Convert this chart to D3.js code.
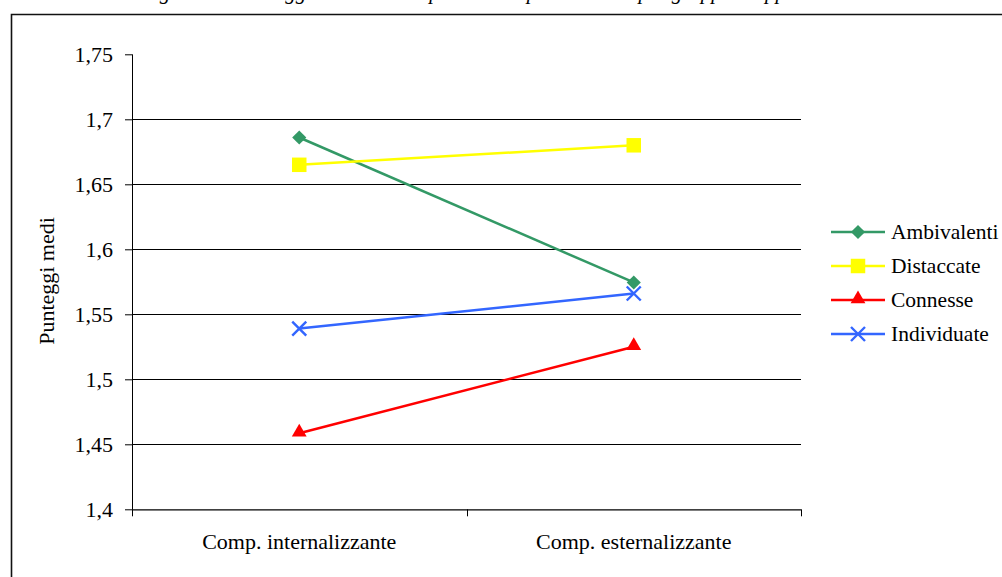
<!DOCTYPE html>
<meta charset="utf-8" />
<head>
  <style>
    body { margin: 0; background: #fff; }
    svg { display: block; }
    svg text { font-family: "Liberation Serif", "Times New Roman", Tinos, serif !important; }
  </style>
  <script src="https://cdn.jsdelivr.net/npm/d3@7"></script>
</head>
<body>
  <svg width="1002" height="577"></svg>
  <script>
    // data
    const categories = ["Comp. internalizzante", "Comp. esternalizzante"];
    const seriesNames = ["Ambivalenti", "Distaccate", "Connesse", "Individuate"];
    const ambivalenti = [1.686, 1.5745];
    const distaccate = [1.665, 1.680];
    const connesse = [1.4585, 1.525];
    const individuate = [1.539, 1.566];
    const yTicks = [1.4, 1.45, 1.5, 1.55, 1.6, 1.65, 1.7, 1.75];

    const colors = ["#339966", "#ffff00", "#ff0000", "#3366ff"];
    const shapes = ["diamond", "square", "triangle", "x"];
    const series = [ambivalenti, distaccate, connesse, individuate].map(function (vals, i) {
      return { name: seriesNames[i], values: vals, color: colors[i], shape: shapes[i] };
    });

    const svg = d3.select("svg");

    // caption above, cut off by the page edge as in the scan
    svg.append("text")
      .attr("x", 505)
      .attr("y", -1)
      .attr("text-anchor", "middle")
      .style("font-style", "italic")
      .style("font-size", "21px")
      .text("Figura 2 – Punteggi medi nei comportamenti problematici per gruppi di appartenenza");

    // outer frame (continues past right and bottom edges)
    svg.append("path")
      .attr("d", "M11.5,600 L11.5,14.5 L1100,14.5")
      .attr("fill", "none")
      .attr("stroke", "#111")
      .attr("stroke-width", 1.6);

    const plotLeft = 132, plotRight = 801, plotTop = 54.3, plotBottom = 509.3;

    const x = d3.scaleBand().domain(categories).range([plotLeft, plotRight]);
    const y = d3.scaleLinear().domain([1.4, 1.75]).range([plotBottom, plotTop]);

    // gridlines
    svg.append("g")
      .selectAll("line")
      .data(yTicks.filter(function (d) { return d > 1.4 && d < 1.75; }))
      .enter()
      .append("line")
      .attr("x1", plotLeft)
      .attr("x2", plotRight)
      .attr("y1", function (d) { return Math.round(y(d)) + 0.5; })
      .attr("y2", function (d) { return Math.round(y(d)) + 0.5; })
      .attr("stroke", "#000")
      .attr("stroke-width", 1);

    // y axis
    const yAxis = svg.append("g")
      .attr("transform", "translate(" + plotLeft + ",0)")
      .call(d3.axisLeft(y)
        .tickValues(yTicks)
        .tickSize(7)
        .tickPadding(12)
        .tickFormat(function (d) { return String(+d.toFixed(2)).replace(".", ","); }));
    yAxis.select(".domain").attr("stroke", "#000").attr("d", "M0.5," + plotTop + "V" + plotBottom);
    yAxis.selectAll(".tick line").attr("stroke", "#000");
    yAxis.selectAll(".tick text")
      .attr("fill", "#000")
      .style("font-size", "22px");

    // x axis
    const xAxis = svg.append("g")
      .attr("transform", "translate(0," + plotBottom + ")")
      .call(d3.axisBottom(x).tickSize(0).tickPadding(24));
    xAxis.select(".domain").attr("stroke", "#000").attr("stroke-width", 1.2).attr("d", "M" + plotLeft + ",0.5H" + plotRight);
    xAxis.selectAll(".tick text")
      .attr("fill", "#000")
      .style("font-size", "22px");
    // category separators
    xAxis.selectAll(".sep")
      .data(categories.map(function (c) { return x(c); }).concat([plotRight]))
      .enter()
      .append("line")
      .attr("x1", function (d) { return Math.round(d) + 0.5; })
      .attr("x2", function (d) { return Math.round(d) + 0.5; })
      .attr("y1", 0)
      .attr("y2", 7)
      .attr("stroke", "#000");

    // y axis title
    svg.append("text")
      .attr("transform", "translate(54,281) rotate(-90)")
      .attr("text-anchor", "middle")
      .style("font-size", "22px")
      .text("Punteggi medi");

    function marker(sel, shape, color) {
      if (shape === "diamond") {
        sel.append("path")
          .attr("d", d3.symbol().type(d3.symbolSquare).size(100)())
          .attr("transform", "rotate(45)")
          .attr("fill", color);
      } else if (shape === "square") {
        sel.append("path")
          .attr("d", d3.symbol().type(d3.symbolSquare).size(210)())
          .attr("fill", color);
      } else if (shape === "triangle") {
        sel.append("path")
          .attr("d", d3.symbol().type(d3.symbolTriangle).size(95)())
          .attr("transform", "translate(0,-1)")
          .attr("fill", color);
      } else {
        sel.append("path")
          .attr("d", "M-7,-7L7,7M-7,7L7,-7")
          .attr("stroke", color)
          .attr("stroke-width", 2.4)
          .attr("fill", "none");
      }
    }

    const line = d3.line()
      .x(function (d, i) { return x(categories[i]) + x.bandwidth() / 2; })
      .y(function (d) { return y(d); });

    const sg = svg.append("g")
      .selectAll("g")
      .data(series)
      .enter()
      .append("g");

    sg.append("path")
      .attr("d", function (d) { return line(d.values); })
      .attr("fill", "none")
      .attr("stroke", function (d) { return d.color; })
      .attr("stroke-width", 2.5);

    sg.each(function (s) {
      d3.select(this).selectAll(".pt")
        .data(s.values)
        .enter()
        .append("g")
        .attr("class", "pt")
        .attr("transform", function (d, i) {
          return "translate(" + (x(categories[i]) + x.bandwidth() / 2) + "," + y(d) + ")";
        })
        .each(function () { marker(d3.select(this), s.shape, s.color); });
    });

    // legend
    const legend = svg.append("g")
      .selectAll("g")
      .data(series)
      .enter()
      .append("g")
      .attr("transform", function (d, i) { return "translate(831," + (232 + i * 34) + ")"; });

    legend.append("line")
      .attr("x1", 0)
      .attr("x2", 54)
      .attr("stroke", function (d) { return d.color; })
      .attr("stroke-width", 2.5);
    legend.append("g")
      .attr("transform", "translate(27,0)")
      .each(function (d) { marker(d3.select(this), d.shape, d.color); });
    legend.append("text")
      .attr("x", 60)
      .attr("dy", "0.33em")
      .style("font-size", "21.5px")
      .text(function (d) { return d.name; });
  </script>
</body>
